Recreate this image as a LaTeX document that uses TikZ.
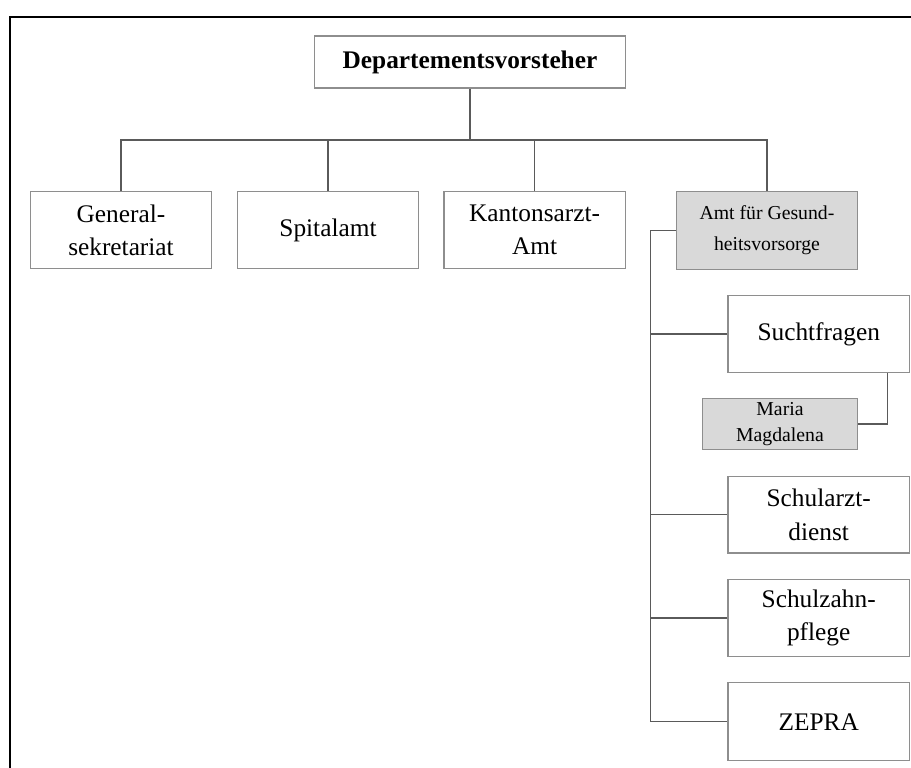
\documentclass[tikz,border=0pt]{standalone}
\usepackage{fontspec}
\setmainfont{Liberation Serif}
\usepackage{xcolor}
\usepackage{tikz}
\usetikzlibrary{positioning,calc}
\definecolor{cLine}  {HTML}{5A5A5A}
\definecolor{cBorder}{HTML}{8E8E8E}
\definecolor{cFill}  {HTML}{D9D9D9}

\begin{document}
\begin{tikzpicture}[x=0.75pt,y=-0.75pt,
    unit/.style={draw=cBorder,line width=0.9pt,fill=white,align=center,
      minimum width=136pt,minimum height=58pt,inner sep=0pt,
      font=\fontsize{19}{25}\selectfont},
    office/.style={unit,fill=cFill,font=\fontsize{14.8}{23}\selectfont},
    link/.style={draw=cLine,line width=0.9pt}]
  \useasboundingbox (0,0) rectangle (911,768);
  \clip (0,0) rectangle (911,768);
  \draw[line width=1.5pt] (9.5,16.5) rectangle (940,800);

  % head of department
  \node[unit,minimum width=233pt,minimum height=39pt,font=\fontsize{19}{25}\bfseries]
    (head) at (470,62) {Departementsvorsteher};
  \coordinate (bar) at (470,140);

  % first level
  \node[unit]   (gensek)  at (121,230)   {General-\\sekretariat};
  \node[unit]   (spital)  at (328,230)   {Spitalamt};
  \node[unit]   (kantarzt) at (534.6,230) {Kantonsarzt-\\Amt};
  \node[office] (amt)     at (767,230.5) {Amt für Gesund-\\heitsvorsorge};

  % sections of the Amt
  \node[unit,minimum height=57.5pt] (sucht)     at (818.7,334)   {Suchtfragen};
  \node[office,minimum width=116.5pt,minimum height=38.5pt,
    font=\fontsize{14.8}{19.3}\selectfont] (maria) at (780,424) {Maria\\Magdalena};
  \node[unit,minimum height=57.5pt] (schularzt) at (818.7,514.7) {Schularzt-\\dienst};
  \node[unit,minimum height=58pt]   (schulzahn) at (818.7,618)   {Schulzahn-\\pflege};
  \node[unit,minimum height=58.5pt] (zepra)     at (818.7,721.7) {ZEPRA};

  \draw[link] (head) -- (bar);
  \draw[link] (gensek.north) |- (bar) -| (amt.north);
  \foreach \n in {spital,kantarzt}
    {\draw[link] (\n.north) -- (\n.north |- bar);}

  \draw[link] (amt.west) -- ++(-25.5,0) coordinate (trunk) -- (trunk |- zepra.west) -- (zepra.west);
  \foreach \n in {sucht,schularzt,schulzahn}
    {\draw[link] (\n.west) -- (\n.west -| trunk);}
  \draw[link] ([xshift=-17pt]sucht.south east) |- (maria.east);
\end{tikzpicture}
\end{document}
